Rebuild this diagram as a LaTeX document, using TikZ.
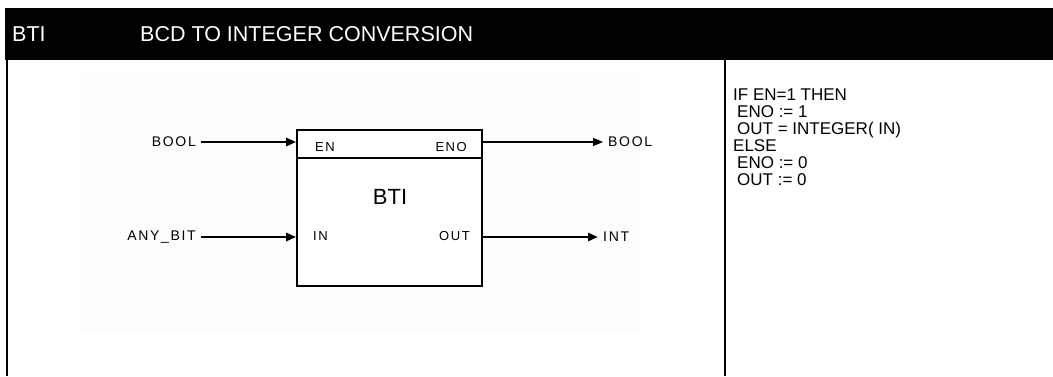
\documentclass[tikz,border=0pt]{standalone}
\usepackage{fontspec}
\setmainfont{Liberation Sans}
\usetikzlibrary{arrows.meta, positioning, calc}
\definecolor{fbshade}{HTML}{FDFDFD}
\tikzset{
  hdr/.style={text=white, font=\fontsize{21.5}{24}\selectfont, inner sep=0pt, anchor=west},
  fblock/.style={rectangle, draw=black, line width=1.6pt, fill=white, inner sep=0pt},
  pinlbl/.style={font=\fontsize{13}{15}\selectfont\addfontfeatures{LetterSpace=12}, inner sep=0pt},
  sigtag/.style={font=\fontsize{14}{16}\selectfont\addfontfeatures{LetterSpace=12}, inner sep=5pt},
  sig/.style={-{Triangle[length=10pt, width=8pt]}, line width=2.6pt},
  sigthin/.style={-{Triangle[length=10pt, width=8pt]}, line width=1.2pt},
  rule/.style={line width=2pt},
}

\begin{document}
\begin{tikzpicture}[x=1pt, y=-1pt]
      \useasboundingbox (0,0) rectangle (1053,376);
      % header bar
      \fill[black] (5,8) rectangle (1053,60);
      \node[hdr] (code) at (12,34) {BTI};
      \node[hdr] (title) at (140,34) {BCD TO INTEGER CONVERSION};
      % table rules
      \draw[rule] (6.5,60) -- (6.5,376);
      \draw[rule] (725,60) -- (725,376);
      % picture backdrop
      \fill[fbshade] (80,72) rectangle (640,333);
      % function block
      \node[fblock, minimum width=185pt, minimum height=156pt] (blk) at (389.5,208) {};
      \draw[line width=1.6pt] ([yshift=-29pt]blk.north west) -- ([yshift=-29pt]blk.north east);
      \node[pinlbl, anchor=west] (en) at (315,147) {EN};
      \node[pinlbl, anchor=east] (eno) at (467,147) {ENO};
      \node[pinlbl, anchor=west] (in) at (313,236) {IN};
      \node[pinlbl, anchor=east] (out) at (470,236) {OUT};
      \node[font=\fontsize{22}{24}\selectfont] (fname) at (390,197) {BTI};
      % signals
      \node[sigtag, anchor=east] (inbool) at (201,142) {BOOL};
      \node[sigtag, anchor=east] (inbit) at (201,237) {ANY\_BIT};
      \node[sigtag, anchor=west] (outbool) at (603,142) {BOOL};
      \node[sigtag, anchor=west] (outint) at (598,237) {INT};
      \draw[sig] (inbool.east) -- (inbool.east -| blk.west);
      \draw[sig] (inbit.east) -- (inbit.east -| blk.west);
      \draw[sigthin] (outbool.west -| blk.east) -- (outbool.west);
      \draw[sig] (outint.west -| blk.east) -- (outint.west);
      % statement text
      \node[anchor=north west, align=left, inner sep=0pt,
            font=\fontsize{17}{17}\selectfont] (stmt) at (733,89)
            {IF EN=1 THEN\\
             \hspace*{4pt}ENO := 1\\
             \hspace*{4pt}OUT = INTEGER( IN)\\
             ELSE\\
             \hspace*{4pt}ENO := 0\\
             \hspace*{4pt}OUT := 0};
    \end{tikzpicture}
\end{document}
